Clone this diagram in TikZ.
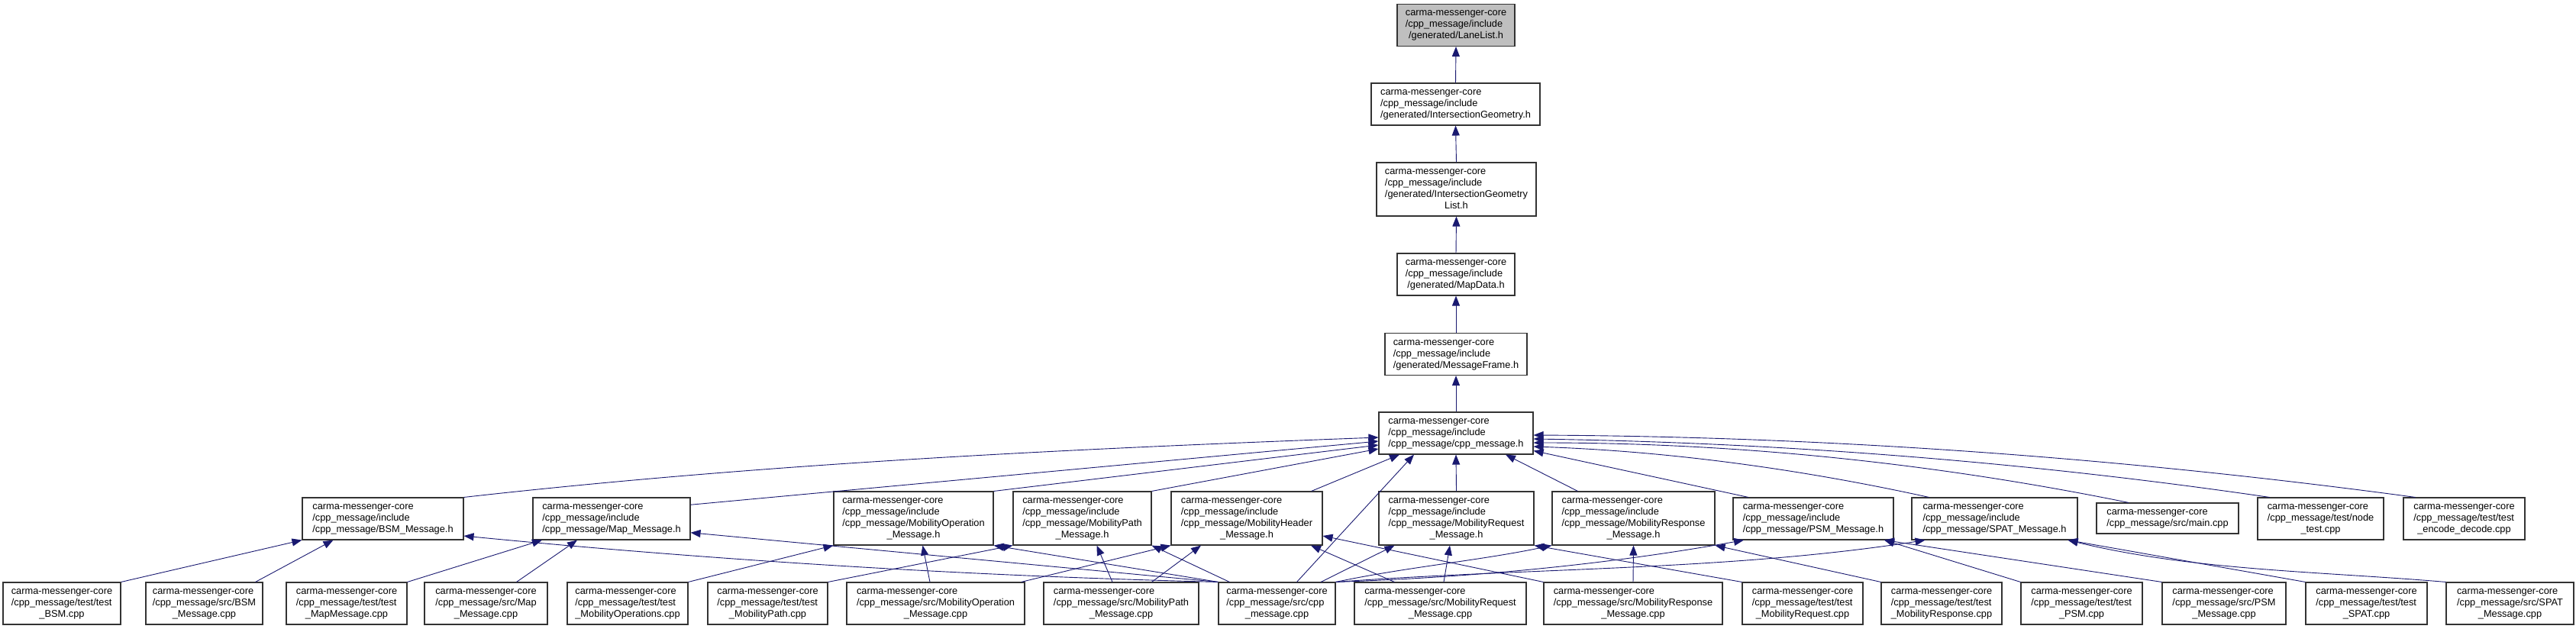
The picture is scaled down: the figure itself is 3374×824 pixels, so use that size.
\documentclass[tikz,border=0pt]{standalone}
\usepackage{fontspec}
\usetikzlibrary{arrows.meta,positioning}
\newfontfamily\doxfont{Liberation Sans}
\definecolor{midblue}{RGB}{25,25,112}
\definecolor{focus}{RGB}{191,191,191}
% lines left, last line centred
\newcommand{\dox}[2]{\begin{tabular}{@{}l@{}}#1\\\multicolumn{1}{@{}c@{}}{#2}\end{tabular}}

\begin{document}
\begin{tikzpicture}[x=1pt, y=-1pt,
    box/.style={draw=black!80, line width=1.1pt, fill=white, inner sep=0pt, minimum height=55pt, font=\doxfont\fontsize{12.8pt}{15pt}\selectfont},
    tall/.style={minimum height=70pt},
    arr/.style={-{Triangle[length=13pt,width=10pt]}, line width=0.9pt, draw=midblue},
]
\useasboundingbox (0,0) rectangle (3374,824);

% Top: header chain
\node[box, fill=focus, minimum width=154pt] (lanelist) at (1907,33) {\dox{carma-messenger-core\\/cpp\_message/include}{/generated/LaneList.h}};
\node[box, minimum width=221pt] (intergeom) at (1906.5,136.5) {\dox{carma-messenger-core\\/cpp\_message/include}{/generated/IntersectionGeometry.h}};
\node[box, tall, minimum width=209pt] (intergeomlist) at (1907.5,248) {\dox{carma-messenger-core\\/cpp\_message/include\\/generated/IntersectionGeometry}{List.h}};
\node[box, minimum width=154pt] (mapdata) at (1907,359.5) {\dox{carma-messenger-core\\/cpp\_message/include}{/generated/MapData.h}};
\node[box, minimum width=186pt] (msgframe) at (1907,464) {\dox{carma-messenger-core\\/cpp\_message/include}{/generated/MessageFrame.h}};
\node[box, minimum width=202pt] (cppmsg) at (1907,567.5) {\dox{carma-messenger-core\\/cpp\_message/include}{/cpp\_message/cpp\_message.h}};

% Middle: message headers and programs
\node[box, minimum width=211pt] (bsmh) at (501.5,679.5) {\dox{carma-messenger-core\\/cpp\_message/include}{/cpp\_message/BSM\_Message.h}};
\node[box, minimum width=206pt] (maph) at (801,679.5) {\dox{carma-messenger-core\\/cpp\_message/include}{/cpp\_message/Map\_Message.h}};
\node[box, tall, minimum width=209pt] (mobopth) at (1196.5,679) {\dox{carma-messenger-core\\/cpp\_message/include\\/cpp\_message/MobilityOperation}{\_Message.h}};
\node[box, tall, minimum width=181pt] (mobpathh) at (1417.5,679) {\dox{carma-messenger-core\\/cpp\_message/include\\/cpp\_message/MobilityPath}{\_Message.h}};
\node[box, tall, minimum width=198pt] (mobheadh) at (1633,679) {\dox{carma-messenger-core\\/cpp\_message/include\\/cpp\_message/MobilityHeader}{\_Message.h}};
\node[box, tall, minimum width=203pt] (mobreqh) at (1907.5,679) {\dox{carma-messenger-core\\/cpp\_message/include\\/cpp\_message/MobilityRequest}{\_Message.h}};
\node[box, tall, minimum width=213pt] (mobresph) at (2139.5,679) {\dox{carma-messenger-core\\/cpp\_message/include\\/cpp\_message/MobilityResponse}{\_Message.h}};
\node[box, minimum width=210pt] (psmh) at (2375,679.5) {\dox{carma-messenger-core\\/cpp\_message/include}{/cpp\_message/PSM\_Message.h}};
\node[box, minimum width=217pt] (spath) at (2612.5,679.5) {\dox{carma-messenger-core\\/cpp\_message/include}{/cpp\_message/SPAT\_Message.h}};
\node[box, minimum width=186pt, minimum height=40pt] (mainc) at (2839,679) {\dox{carma-messenger-core}{/cpp\_message/src/main.cpp}};
\node[box, minimum width=165pt] (nodetest) at (3039.5,679.5) {\dox{carma-messenger-core\\/cpp\_message/test/node}{\_test.cpp}};
\node[box, minimum width=159pt] (encdec) at (3227.5,679.5) {\dox{carma-messenger-core\\/cpp\_message/test/test}{\_encode\_decode.cpp}};

% Bottom: sources and tests
\node[box, minimum width=154pt] (testbsm) at (81,790.5) {\dox{carma-messenger-core\\/cpp\_message/test/test}{\_BSM.cpp}};
\node[box, minimum width=153pt] (srcbsm) at (267.5,790.5) {\dox{carma-messenger-core\\/cpp\_message/src/BSM}{\_Message.cpp}};
\node[box, minimum width=158pt] (testmap) at (454,790.5) {\dox{carma-messenger-core\\/cpp\_message/test/test}{\_MapMessage.cpp}};
\node[box, minimum width=161pt] (srcmap) at (636.5,790.5) {\dox{carma-messenger-core\\/cpp\_message/src/Map}{\_Message.cpp}};
\node[box, minimum width=158pt] (testmobop) at (822,790.5) {\dox{carma-messenger-core\\/cpp\_message/test/test}{\_MobilityOperations.cpp}};
\node[box, minimum width=157pt] (testmobpath) at (1005.5,790.5) {\dox{carma-messenger-core\\/cpp\_message/test/test}{\_MobilityPath.cpp}};
\node[box, minimum width=233pt] (srcmobop) at (1225.5,790.5) {\dox{carma-messenger-core\\/cpp\_message/src/MobilityOperation}{\_Message.cpp}};
\node[box, minimum width=203pt] (srcmobpath) at (1468.5,790.5) {\dox{carma-messenger-core\\/cpp\_message/src/MobilityPath}{\_Message.cpp}};
\node[box, minimum width=153pt] (srccpp) at (1672.5,790.5) {\dox{carma-messenger-core\\/cpp\_message/src/cpp}{\_message.cpp}};
\node[box, minimum width=225pt] (srcmobreq) at (1886.5,790.5) {\dox{carma-messenger-core\\/cpp\_message/src/MobilityRequest}{\_Message.cpp}};
\node[box, minimum width=234pt] (srcmobresp) at (2139,790.5) {\dox{carma-messenger-core\\/cpp\_message/src/MobilityResponse}{\_Message.cpp}};
\node[box, minimum width=158pt] (testmobreq) at (2361,790.5) {\dox{carma-messenger-core\\/cpp\_message/test/test}{\_MobilityRequest.cpp}};
\node[box, minimum width=158pt] (testmobresp) at (2543,790.5) {\dox{carma-messenger-core\\/cpp\_message/test/test}{\_MobilityResponse.cpp}};
\node[box, minimum width=159pt] (testpsm) at (2726.5,790.5) {\dox{carma-messenger-core\\/cpp\_message/test/test}{\_PSM.cpp}};
\node[box, minimum width=162pt] (srcpsm) at (2913,790.5) {\dox{carma-messenger-core\\/cpp\_message/src/PSM}{\_Message.cpp}};
\node[box, minimum width=159pt] (testspat) at (3099.5,790.5) {\dox{carma-messenger-core\\/cpp\_message/test/test}{\_SPAT.cpp}};
\node[box, minimum width=167pt] (srcspat) at (3287.5,790.5) {\dox{carma-messenger-core\\/cpp\_message/src/SPAT}{\_Message.cpp}};

% Chain
\draw[arr] (intergeom.north) -- (lanelist.south);
\draw[arr] (intergeomlist.north) -- (intergeom.south);
\draw[arr] (mapdata.north) -- (intergeomlist.south);
\draw[arr] (msgframe.north) -- (mapdata.south);
\draw[arr] (cppmsg.north) -- (msgframe.south);

% Into cpp_message.h
\draw[arr] (bsmh.north east) .. controls +(400,-45) and +(-400,15) .. ([yshift=-5.5pt]cppmsg.west);
\draw[arr] (maph.10) -- ([yshift=-10.5pt]cppmsg.west);
\draw[arr] (mobopth.north east) -- ([yshift=-15.5pt]cppmsg.west);
\draw[arr] (mobpathh.north east) -- ([yshift=-20.5pt]cppmsg.west);
\draw[arr] ([xshift=-15pt]mobheadh.north east) -- ([xshift=-74pt]cppmsg.south);
\draw[arr] ([xshift=26pt]srccpp.north) -- ([xshift=-55pt]cppmsg.south);
\draw[arr] (mobreqh.north) -- (cppmsg.south);
\draw[arr] ([xshift=-73pt]mobresph.north) -- ([xshift=65pt]cppmsg.south);
\draw[arr] ([xshift=-85pt]psmh.north) -- ([yshift=-23pt]cppmsg.east);
\draw[arr] ([xshift=-86pt]spath.north) .. controls +(-173,-38) and +(173,6) .. ([yshift=-17.5pt]cppmsg.east);
\draw[arr] ([xshift=-51pt]mainc.north) .. controls +(-260,-53) and +(260,0) .. ([yshift=-12.5pt]cppmsg.east);
\draw[arr] ([xshift=-67pt]nodetest.north) .. controls +(-321,-47) and +(321,5) .. ([yshift=-7.5pt]cppmsg.east);
\draw[arr] ([xshift=-64pt]encdec.north) .. controls +(-385,-52) and +(385,2) .. ([yshift=-2.5pt]cppmsg.east);

% Into the message headers
\draw[arr] (testbsm.north east) -- (bsmh.south west);
\draw[arr] ([xshift=-10pt]srcbsm.north east) -- ([xshift=-65pt]bsmh.south);
\draw[arr] (srccpp.north west) .. controls +(-330,-8) and +(330,32) .. (bsmh.-12);
\draw[arr] (testmap.north east) -- ([xshift=-91pt]maph.south);
\draw[arr] ([xshift=40pt]srcmap.north) -- ([xshift=-45pt]maph.south);
\draw[arr] (srccpp.north west) -- (maph.-10);
\draw[arr] (testmobop.north east) -- (mobopth.south west);
\draw[arr] ([xshift=-7.5pt]srcmobop.north) -- ([xshift=12pt]mobopth.south);
\draw[arr] (srccpp.north west) -- (mobopth.south east);
\draw[arr] (testmobpath.north east) -- (mobpathh.south west);
\draw[arr] ([xshift=-11.5pt]srcmobpath.north) -- ([xshift=19pt]mobpathh.south);
\draw[arr] ([xshift=15pt]srccpp.north west) -- (mobpathh.south east);
\draw[arr] ([xshift=-5pt]srcmobop.north east) -- (mobheadh.south west);
\draw[arr] ([xshift=40pt]srcmobpath.north) -- ([xshift=-60pt]mobheadh.south);
\draw[arr] ([xshift=-60pt]srcmobreq.north) -- ([xshift=84pt]mobheadh.south);
\draw[arr] (srcmobresp.north west) -- ([yshift=-23pt]mobheadh.east);
\draw[arr] ([xshift=-19.5pt]srccpp.north east) -- ([xshift=-81pt]mobreqh.south);
\draw[arr] ([xshift=4.5pt]srcmobreq.north) -- ([xshift=-8.5pt]mobreqh.south);
\draw[arr] (testmobreq.north west) -- (mobreqh.south east);
\draw[arr] (srccpp.north east) .. controls +(95,-20) and +(-95,20) .. (mobresph.south west);
\draw[arr] (srcmobresp.north) -- (mobresph.south);
\draw[arr] (testmobresp.north west) -- (mobresph.south east);
\draw[arr] (srccpp.north east) .. controls +(178,-6) and +(-178,32) .. ([xshift=-91pt]psmh.south);
\draw[arr] (srccpp.north east) .. controls +(257,-19) and +(-257,40) .. ([xshift=-91pt]spath.south);
\draw[arr] (testpsm.north west) -- ([xshift=93pt]psmh.south);
\draw[arr] (srcpsm.north west) -- ([xshift=93pt]psmh.south);
\draw[arr] (testspat.north west) -- ([xshift=96pt]spath.south);
\draw[arr] (srcspat.north west) .. controls +(-165,-14) and +(165,40) .. ([xshift=96pt]spath.south);
\end{tikzpicture}
\end{document}
